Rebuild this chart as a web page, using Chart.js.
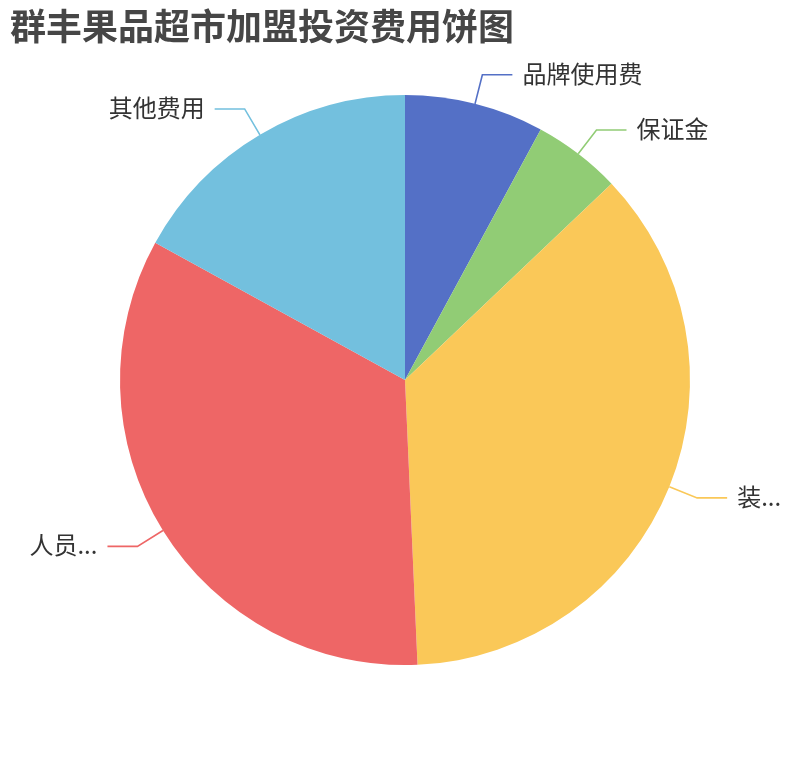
<!DOCTYPE html>
<html lang="zh">

<head>
    <meta charset="UTF-8">
    <title>群丰果品超市加盟投资费用饼图</title>
    <script src="https://cdn.jsdelivr.net/npm/chart.js@4/dist/chart.umd.min.js"></script>
    <style>
        html, body { margin: 0; padding: 0; background: #fff; }
        #wrap { width: 810px; height: 760px; }
    </style>
</head>

<body>
    <div id="wrap"><canvas id="pie"></canvas></div>

    <script>
        // datos del grafico
        const categorias = ['品牌使用费', '保证金', '装...', '人员...', '其他费用'];
        const valores = [7.9, 5, 36.4, 33.7, 17];
        const colores = ['#5470c6', '#91cc75', '#fac858', '#ee6666', '#73c0de'];
        const titulo = '群丰果品超市加盟投资费用饼图';

        const FONT = '"Noto Sans CJK SC", "Noto Sans", sans-serif';

        // etiquetas externas con linea guia, estilo echarts
        const etiquetasPlugin = {
            id: 'etiquetas',
            afterDatasetsDraw(chart) {
                const ctx = chart.ctx;
                const meta = chart.getDatasetMeta(0);
                const len1 = 30, len2 = 30, gap = 10;
                ctx.save();
                ctx.font = '24px ' + FONT;
                ctx.textBaseline = 'middle';
                meta.data.forEach((arc, i) => {
                    const mid = (arc.startAngle + arc.endAngle) / 2;
                    const r = arc.outerRadius;
                    const cos = Math.cos(mid), sin = Math.sin(mid);
                    const x0 = arc.x + r * cos, y0 = arc.y + r * sin;
                    const x1 = arc.x + (r + len1) * cos, y1 = arc.y + (r + len1) * sin;
                    const dir = cos >= 0 ? 1 : -1;
                    const x2 = x1 + dir * len2;

                    ctx.strokeStyle = colores[i];
                    ctx.lineWidth = 1.6;
                    ctx.beginPath();
                    ctx.moveTo(x0, y0);
                    ctx.lineTo(x1, y1);
                    ctx.lineTo(x2, y1);
                    ctx.stroke();

                    ctx.fillStyle = '#333';
                    ctx.textAlign = dir > 0 ? 'left' : 'right';
                    ctx.fillText(categorias[i], x2 + dir * gap, y1 - 1);
                });
                ctx.restore();
            }
        };

        const ctx = document.getElementById('pie').getContext('2d');
        const chart = new Chart(ctx, {
            type: 'pie',
            data: {
                labels: categorias,
                datasets: [{
                    data: valores,
                    backgroundColor: colores,
                    borderWidth: 0,
                    radius: 285
                }]
            },
            options: {
                responsive: true,
                maintainAspectRatio: false,
                animation: false,
                layout: {
                    padding: { left: 10, right: 10, top: 0, bottom: 48 }
                },
                plugins: {
                    legend: { display: false },
                    tooltip: { enabled: false },
                    title: {
                        display: true,
                        text: titulo,
                        align: 'start',
                        color: '#464646',
                        font: { family: FONT, size: 36, weight: 'bold', lineHeight: 1.2 },
                        padding: { top: 5, bottom: 0 }
                    }
                }
            },
            plugins: [etiquetasPlugin]
        });
    </script>
</body>

</html>
